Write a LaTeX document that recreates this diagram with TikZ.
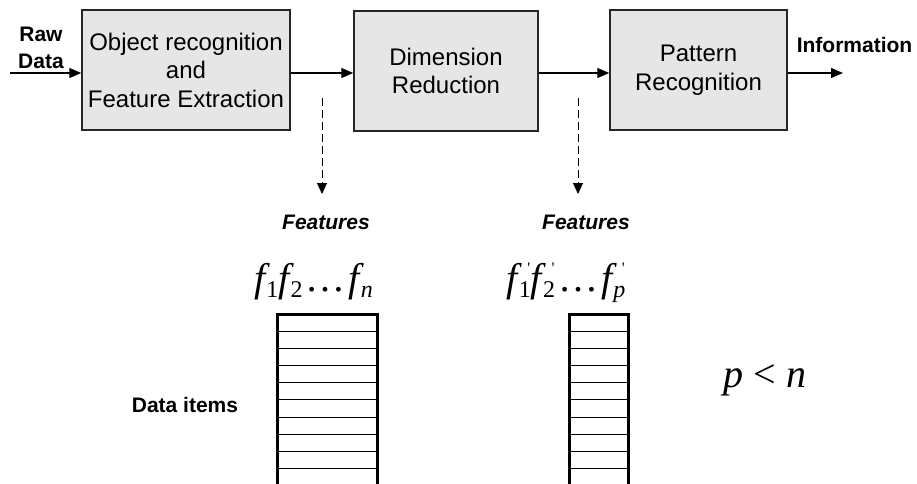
\documentclass[tikz,border=0pt]{standalone}
\usepackage{fontspec}
\setmainfont{Liberation Sans}
\newfontfamily\tms{Liberation Serif}
\usetikzlibrary{arrows.meta}
\definecolor{boxfill}{RGB}{230,230,230}
\newcommand\fsub[1]{{\itshape f}\kern0.03em\raisebox{-0.16em}{\fontsize{24}{24}\selectfont #1}}
\newcommand\fpr[1]{{\itshape f}\kern0.03em\rlap{\kern0.21em\raisebox{0.44em}{\fontsize{16}{16}\selectfont '}}\raisebox{-0.16em}{\fontsize{24}{24}\selectfont #1}}
\newcommand\mdots{\kern3pt…\kern3pt}
\begin{document}
\begin{tikzpicture}[x=1pt,y=-1pt,
  blk/.style={draw=black!85, line width=1.5pt, fill=boxfill, align=center,
    font=\fontsize{24}{28.5}\selectfont, inner sep=0pt},
  arr/.style={line width=1.2pt, -{Triangle[length=12pt,width=10pt]}},
  darr/.style={line width=1pt, dash pattern=on 8pt off 4pt, -{Triangle[length=11pt,width=10pt]}},
  lbl/.style={font=\bfseries\fontsize{21}{27}\selectfont, align=center, inner sep=0pt},
  flbl/.style={font=\bfseries\itshape\fontsize{21}{24}\selectfont, inner sep=0pt},
  mth/.style={font=\tms\fontsize{40}{40}\selectfont, inner sep=0pt, anchor=base},
  tbl/.style={line width=3pt},
  row/.style={line width=1pt}]
\useasboundingbox (0,0) rectangle (917,483);

\node[blk, minimum width=208pt, minimum height=120pt] (b1) at (186,70) {Object recognition\\and\\Feature Extraction};
\node[blk, minimum width=184pt, minimum height=120pt] (b2) at (446,71) {Dimension\\Reduction};
\node[blk, minimum width=177pt, minimum height=120pt] (b3) at (698.5,70) {\raisebox{-3pt}{Pattern}\\\raisebox{-3pt}{Recognition}};

\coordinate (rawin) at (10,73);
\coordinate (infout) at (843,73);
\node[lbl] (raw) at (41,48) {Raw\\Data};
\node[lbl] (info) at (854.5,45) {Information};

\draw[arr] (rawin) -- (rawin -| b1.west);
\draw[arr] (rawin -| b1.east) -- (rawin -| b2.west);
\draw[arr] (rawin -| b2.east) -- (rawin -| b3.west);
\draw[arr] (rawin -| b3.east) -- (infout);

\coordinate (d1s) at (322,98);
\coordinate (d1e) at (322,194);
\coordinate (d2s) at (578,98);
\coordinate (d2e) at (578,194);
\draw[darr] (d1s) -- (d1e);
\draw[darr] (d2s) -- (d2e);

\node[flbl] (feat1) at (326,222) {Features};
\node[flbl] (feat2) at (586,222) {Features};

\node[mth] (fn) at (313.5,291) {\fsub{1}\fsub{2}\mdots\fsub{\itshape n}};
\node[mth] (fp) at (566,291) {\fpr{1}\fpr{2}\mdots\fpr{\itshape p}};

\node[lbl] (items) at (185,405) {Data items};
\node[font=\tms\fontsize{40}{40}\selectfont, inner sep=0pt] (pn) at (765,380) {\itshape p\/ \upshape< \itshape n};

% table 1
\draw[tbl] (277,484) -- (277,314) -- (377,314) -- (377,484);
\foreach \yy in {331.7,348.6,365.7,382.8,399.9,417,434.1,451.2,468.3}
  \draw[row] (277,\yy) -- (377,\yy);
% table 2
\draw[tbl] (569,484) -- (569,314) -- (628,314) -- (628,484);
\foreach \yy in {331.7,348.6,365.7,382.8,399.9,417,434.1,451.2,468.3}
  \draw[row] (569,\yy) -- (628,\yy);
\end{tikzpicture}
\end{document}
